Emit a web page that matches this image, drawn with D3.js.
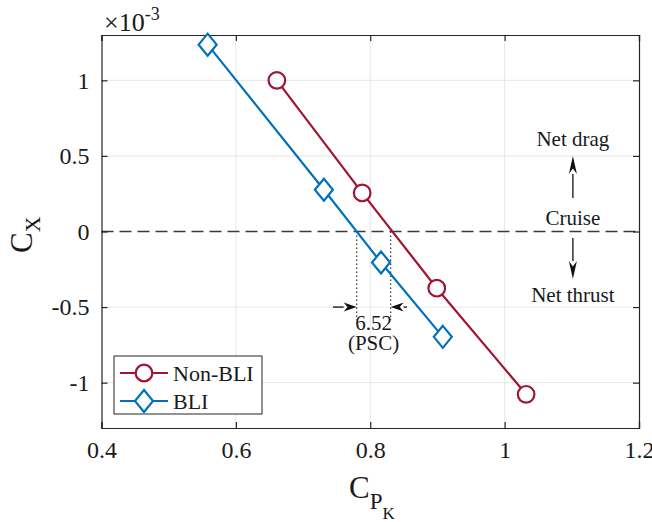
<!DOCTYPE html>
<html>
<head>
<meta charset="utf-8">
<script src="https://cdn.jsdelivr.net/npm/d3@7"></script>
<style>
  html, body { margin: 0; padding: 0; background: #fff; }
  svg { display: block; }
  svg text { font-family: "Liberation Serif", "Times New Roman", serif; }
</style>
</head>
<body>
<svg id="chart" width="652" height="522"></svg>
<script>
// ---- data ----
const nonBliCpk = [0.661, 0.788, 0.899, 1.032];
const nonBliCx  = [1.0, 0.255, -0.375, -1.077];
const bliCpk    = [0.558, 0.731, 0.816, 0.908];
const bliCx     = [1.236, 0.276, -0.205, -0.697];
const xTicks = [0.4, 0.6, 0.8, 1.0, 1.2];
const xTickLabels = ["0.4", "0.6", "0.8", "1", "1.2"];
const yTicks = [-1, -0.5, 0, 0.5, 1];
const yTickLabels = ["-1", "-0.5", "0", "0.5", "1"];
const seriesNames = ["Non-BLI", "BLI"];
const pscLeftCpk = 0.7798, pscRightCpk = 0.8304;
const pscLabel = ["6.52", "(PSC)"];
const regionLabels = ["Net drag", "Cruise", "Net thrust"];

// ---- layout ----
const FONT = '"Liberation Serif", "Times New Roman", serif';
const L = 101.5, R = 639, T = 35, B = 428;
const svg = d3.select("#chart");
const x = d3.scaleLinear().domain([0.4, 1.2]).range([L, R]);
const y = d3.scaleLinear().domain([-1.3, 1.3]).range([B, T]);
const red = "#A2142F", blue = "#0072BD", axisCol = "#262626", txt = "#1a1a1a";

// grid
const g = svg.append("g");
g.selectAll(".gx").data(xTicks.slice(1, -1)).enter().append("line")
  .attr("x1", d => x(d)).attr("x2", d => x(d)).attr("y1", T).attr("y2", B)
  .attr("stroke", "#e6e6e6").attr("stroke-width", 1);
g.selectAll(".gy").data(yTicks.filter(d => d !== 0)).enter().append("line")
  .attr("y1", d => y(d)).attr("y2", d => y(d)).attr("x1", L).attr("x2", R)
  .attr("stroke", "#e6e6e6").attr("stroke-width", 1);

// dashed zero line
svg.append("line").attr("x1", L).attr("x2", R).attr("y1", y(0)).attr("y2", y(0))
  .attr("stroke", "#3a3a3a").attr("stroke-width", 1.4).attr("stroke-dasharray", "12,6");

// axes (inside ticks on all sides)
const fs = 24;
const axB = svg.append("g").attr("transform", `translate(0,${B})`)
  .call(d3.axisBottom(x).tickValues(xTicks).tickFormat((d, i) => xTickLabels[i]).tickSize(-6).tickPadding(13));
const axT = svg.append("g").attr("transform", `translate(0,${T})`)
  .call(d3.axisTop(x).tickValues(xTicks).tickFormat("").tickSize(-6));
const axL = svg.append("g").attr("transform", `translate(${L},0)`)
  .call(d3.axisLeft(y).tickValues(yTicks).tickFormat((d, i) => yTickLabels[i]).tickSize(-6).tickPadding(12));
const axR = svg.append("g").attr("transform", `translate(${R},0)`)
  .call(d3.axisRight(y).tickValues(yTicks).tickFormat("").tickSize(-6));
[axB, axT, axL, axR].forEach(a => {
  a.attr("font-family", FONT).attr("font-size", fs);
  a.select(".domain").attr("stroke", axisCol).attr("stroke-width", 1.2);
  a.selectAll(".tick line").attr("stroke", axisCol).attr("stroke-width", 1.2);
  a.selectAll(".tick text").attr("fill", txt).attr("font-family", FONT).attr("font-size", fs);
});

function T_(xx, yy, size, anchor) {
  return svg.append("text").attr("x", xx).attr("y", yy).attr("fill", txt)
    .attr("font-family", FONT).attr("font-size", size).attr("text-anchor", anchor || "start");
}

// ×10^-3
const ex = T_(104, 31, 26);
ex.append("tspan").text("×10");
ex.append("tspan").attr("dy", -11).attr("font-size", 18).text("-3");

// axis labels
const xl = T_(349, 498, 31);
xl.append("tspan").text("C");
xl.append("tspan").attr("dy", 11).attr("font-size", 23).text("P");
xl.append("tspan").attr("dy", 10).attr("font-size", 17).text("K");

const yl = svg.append("text").attr("transform", `translate(32,253) rotate(-90)`).attr("fill", txt)
  .attr("font-family", FONT).attr("font-size", 31);
yl.append("tspan").text("C");
yl.append("tspan").attr("dy", 8).attr("font-size", 22).text("X");

// PSC annotation
const yDotBottom = -0.585, yArrow = -0.5;
[pscLeftCpk, pscRightCpk].forEach(v => {
  svg.append("line").attr("x1", x(v)).attr("x2", x(v)).attr("y1", y(0)).attr("y2", y(yDotBottom))
    .attr("stroke", "#333").attr("stroke-width", 1.2).attr("stroke-dasharray", "1.5,2.5");
});
function arrow(x1, y1, x2, y2, headLen, headW) {
  const ang = Math.atan2(y2 - y1, x2 - x1);
  const bx = x2 - headLen * Math.cos(ang), by = y2 - headLen * Math.sin(ang);
  svg.append("line").attr("x1", x1).attr("y1", y1).attr("x2", bx).attr("y2", by)
    .attr("stroke", "#111").attr("stroke-width", 1.3);
  const nx = -Math.sin(ang) * headW / 2, ny = Math.cos(ang) * headW / 2;
  const ix = x2 - headLen * 0.7 * Math.cos(ang), iy = y2 - headLen * 0.7 * Math.sin(ang);
  svg.append("path")
    .attr("d", `M${x2},${y2}L${bx + nx},${by + ny}L${ix},${iy}L${bx - nx},${by - ny}Z`)
    .attr("fill", "#111");
}
arrow(x(0.7445), y(yArrow), x(pscLeftCpk), y(yArrow), 13, 9);
arrow(x(0.8546), y(yArrow), x(pscRightCpk), y(yArrow), 13, 9);
T_(x(0.805), 330, 21, "middle").text(pscLabel[0]);
T_(x(0.805), 350, 21, "middle").text(pscLabel[1]);

// right-side region labels
const rx = x(1.1016);
T_(rx, 146, 21, "middle").text(regionLabels[0]);
T_(rx, 225, 21, "middle").text(regionLabels[1]);
T_(rx, 302, 21, "middle").text(regionLabels[2]);
arrow(rx, 198, rx, 156, 18, 8);
arrow(rx, 238, rx, 279, 18, 8);

// series
const line = d3.line().x(d => x(d[0])).y(d => y(d[1]));
const nonBli = nonBliCpk.map((v, i) => [v, nonBliCx[i]]);
const bli = bliCpk.map((v, i) => [v, bliCx[i]]);
svg.append("path").datum(nonBli).attr("d", line).attr("fill", "none").attr("stroke", red).attr("stroke-width", 2.2);
svg.append("path").datum(bli).attr("d", line).attr("fill", "none").attr("stroke", blue).attr("stroke-width", 2.2);
const diamond = (cx, cy) => `M${cx},${cy - 11}L${cx + 9},${cy}L${cx},${cy + 11}L${cx - 9},${cy}Z`;
svg.selectAll(".mc").data(nonBli).enter().append("circle")
  .attr("cx", d => x(d[0])).attr("cy", d => y(d[1])).attr("r", 8.3)
  .attr("fill", "#fff").attr("stroke", red).attr("stroke-width", 2.2);
svg.selectAll(".md").data(bli).enter().append("path")
  .attr("d", d => diamond(x(d[0]), y(d[1])))
  .attr("fill", "#fff").attr("stroke", blue).attr("stroke-width", 2.2);

// legend
const lg = svg.append("g");
lg.append("rect").attr("x", 114).attr("y", 356).attr("width", 148).attr("height", 58)
  .attr("fill", "#fff").attr("stroke", axisCol).attr("stroke-width", 1);
const rows = [{name: seriesNames[0], col: red, yy: 373, m: "c"}, {name: seriesNames[1], col: blue, yy: 401, m: "d"}];
rows.forEach(r => {
  lg.append("line").attr("x1", 120).attr("x2", 168).attr("y1", r.yy).attr("y2", r.yy)
    .attr("stroke", r.col).attr("stroke-width", 2.2);
  if (r.m === "c") lg.append("circle").attr("cx", 144).attr("cy", r.yy).attr("r", 8.3)
    .attr("fill", "#fff").attr("stroke", r.col).attr("stroke-width", 2.2);
  else lg.append("path").attr("d", diamond(144, r.yy)).attr("fill", "#fff").attr("stroke", r.col).attr("stroke-width", 2.2);
  T_(173, r.yy + 7.5, 22).text(r.name);
});
</script>
</body>
</html>
